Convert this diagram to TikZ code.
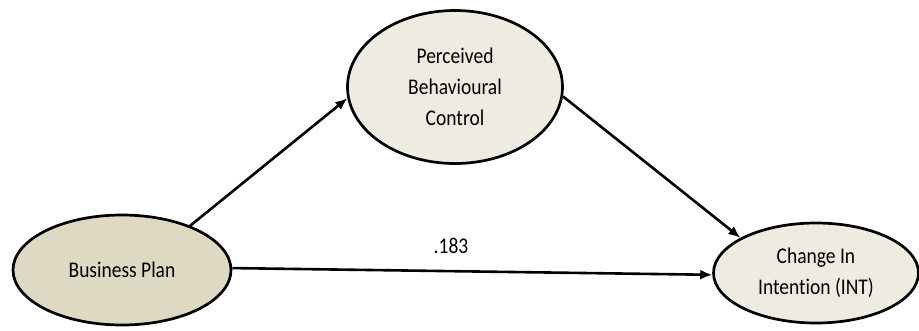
\documentclass[tikz,border=0pt]{standalone}
\usepackage{fontspec}
\setmainfont{Carlito}[Ligatures=NoCommon]
\usetikzlibrary{shapes.geometric,arrows.meta}
\definecolor{bpfill}{HTML}{DDD9C3}
\definecolor{lvfill}{HTML}{EEECE1}
% slightly tall lettering
\newcommand{\tall}[1]{\scalebox{1}[1.15]{#1}}

\begin{document}
\begin{tikzpicture}[x=1pt,y=-1pt,
  latent/.style={ellipse, draw=black, line width=2.7pt, inner sep=0pt,
    font=\fontsize{19.5}{31}\selectfont, align=center},
  link/.style={line width=2.6pt, -{Latex[length=12pt,width=10pt]}},
  coef/.style={font=\fontsize{19.5}{23}\selectfont, inner sep=0pt}]
\useasboundingbox (0,0) rectangle (919,330);

\node[latent, fill=bpfill, minimum width=218pt, minimum height=110pt] (bp) at (122,270) {\tall{Business Plan}};
\node[latent, fill=lvfill, minimum width=215pt, minimum height=153pt] (pbc) at (455,87)
  {\tall{Perceived}\\ \tall{Behavioural}\\ \tall{Control}};
\node[latent, fill=lvfill, minimum width=205pt, minimum height=100pt] (cin) at (816,273)
  {\tall{Change In}\\ \tall{Intention (INT)}};

\draw[link] (bp.33.5) -- (pbc.186);
\draw[link] (pbc.-5) -- (cin.155);
\draw[link] (bp.1) -- (cin.181.5);

\node[coef] (b1) at (451,246) {\tall{.183}};
\end{tikzpicture}
\end{document}
